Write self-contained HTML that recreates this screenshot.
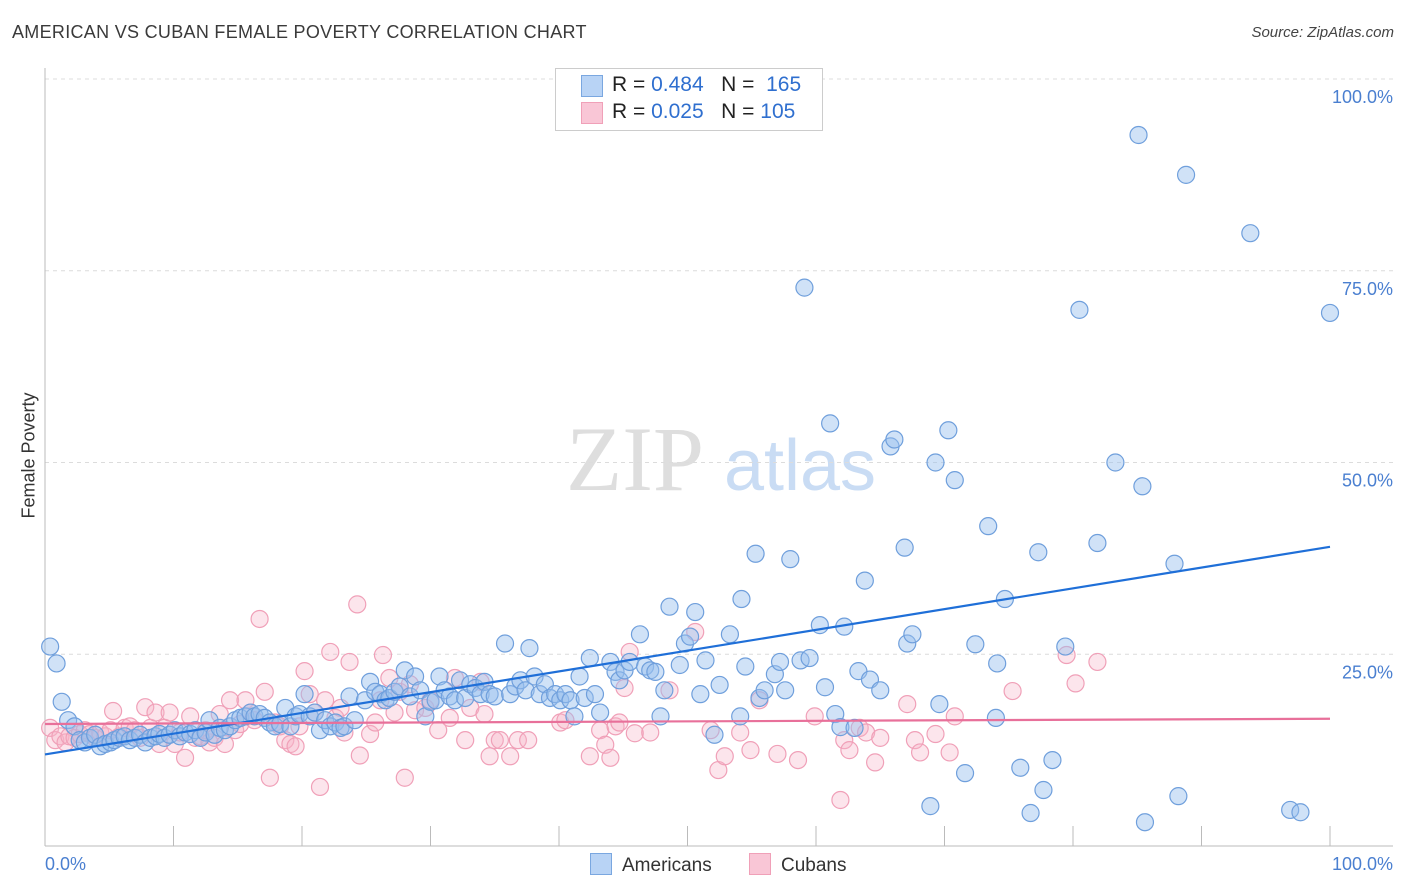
<!DOCTYPE html>
<html><head><meta charset="utf-8"><style>
body{margin:0;background:#fff;font-family:"Liberation Sans",sans-serif;}
#wrap{position:relative;width:1406px;height:892px;overflow:hidden;}
.t{position:absolute;white-space:nowrap;}
</style></head><body>
<div id="wrap">
<div class="t" style="left:12px;top:22px;font-size:18px;color:#3a3a3a;letter-spacing:0.3px;">AMERICAN VS CUBAN FEMALE POVERTY CORRELATION CHART</div>
<div class="t" style="right:12px;top:24px;font-size:15px;color:#444;font-style:italic;">Source: ZipAtlas.com</div>
<div class="t" style="left:-34px;top:445px;font-size:18px;color:#333;transform:rotate(-90deg);">Female Poverty</div>
<svg id="plot" width="1406" height="892" style="position:absolute;left:0;top:0"></svg>
<div class="t" style="left:555px;top:68px;width:266px;height:61px;border:1px solid #ccc;background:#fff;"></div>
<div class="t" style="left:581px;top:75px;width:20px;height:20px;background:#b8d3f5;border:1px solid #7aa7e0;"></div>
<div class="t" style="left:581px;top:102px;width:20px;height:20px;background:#f9c6d6;border:1px solid #f0a0b8;"></div>
<div class="t" style="left:612px;top:73px;font-size:21px;color:#222;">R = <span style="color:#2f6fcf">0.484</span>&nbsp;&nbsp;&nbsp;N = <span style="color:#2f6fcf">&nbsp;165</span></div>
<div class="t" style="left:612px;top:100px;font-size:21px;color:#222;">R = <span style="color:#2f6fcf">0.025</span>&nbsp;&nbsp;&nbsp;N = <span style="color:#2f6fcf">105</span></div>
<div class="t" style="left:590px;top:853px;font-size:19px;color:#333;"><span style="display:inline-block;width:20px;height:20px;background:#b8d3f5;border:1px solid #7aa7e0;vertical-align:-4px;margin-right:10px"></span>Americans</div>
<div class="t" style="left:749px;top:853px;font-size:19px;color:#333;"><span style="display:inline-block;width:20px;height:20px;background:#f9c6d6;border:1px solid #f0a0b8;vertical-align:-4px;margin-right:10px"></span>Cubans</div>
</div>
<script>
const yTicks=[100,75,50,25];
const yTickLabels=["100.0%","75.0%","50.0%","25.0%"];
const xTickLabels=["0.0%","100.0%"];
const amX=[0.4,0.9,1.3,1.8,2.3,2.7,3.1,3.5,3.9,4.3,4.7,5.1,5.4,5.8,6.2,6.6,7.0,7.4,7.8,8.2,8.6,8.9,9.3,9.7,10.1,10.5,10.9,11.3,11.7,12.1,12.5,12.8,13.2,13.6,14.0,14.4,14.8,15.2,15.6,16.0,16.3,16.7,17.1,17.5,17.9,18.3,18.7,19.1,19.5,19.8,20.2,20.6,21.0,21.4,21.8,22.2,22.6,23.0,23.3,23.7,24.1,24.9,25.3,25.7,26.1,26.5,26.8,27.2,27.6,28.0,28.4,28.8,29.2,29.6,30.0,30.4,30.7,31.1,31.5,31.9,32.3,32.7,33.1,33.5,33.9,34.2,34.6,35.0,35.8,36.2,36.6,37.0,37.4,37.7,38.1,38.5,38.9,39.3,39.7,40.1,40.5,40.9,41.2,41.6,42.0,42.4,42.8,43.2,44.0,44.4,44.7,45.1,45.5,46.3,46.7,47.1,47.5,47.9,48.2,48.6,49.4,49.8,50.2,50.6,51.0,51.4,52.1,52.5,53.3,54.1,54.5,54.2,55.3,55.6,56.0,56.8,57.2,57.6,58.0,58.8,59.1,59.5,60.3,60.7,61.1,61.5,61.9,62.2,63.0,63.3,63.8,64.2,65.0,65.8,66.1,66.9,67.1,67.5,68.9,69.3,69.6,70.3,70.8,71.6,72.4,73.4,74.1,74.7,74.0,75.9,76.7,77.3,77.7,78.4,79.4,80.5,81.9,83.3,85.1,85.4,85.6,87.9,88.2,88.8,93.8,96.9,97.7,100.0];
const amY=[26.0,23.8,18.8,16.4,15.6,13.8,13.5,14.1,14.5,13.0,13.3,13.5,13.8,14.1,14.3,13.8,14.1,14.5,13.5,14.1,14.3,14.6,14.1,14.5,15.1,14.3,14.8,14.6,15.1,14.1,14.8,16.4,14.5,15.4,15.1,15.6,16.4,16.7,16.9,17.4,16.9,17.2,16.7,16.1,15.6,15.9,18.0,15.6,16.9,17.2,19.8,16.9,17.4,15.1,16.4,15.6,16.1,15.4,15.6,19.5,16.4,19.0,21.4,20.1,19.8,19.0,19.3,20.1,20.8,22.9,19.5,22.1,20.3,16.9,18.8,19.0,22.1,20.3,19.5,19.0,21.6,19.3,21.1,20.6,19.8,21.4,19.8,19.5,26.4,19.8,20.8,21.6,20.3,25.8,22.1,19.8,21.1,19.3,19.8,19.0,19.8,19.0,16.9,22.1,19.3,24.5,19.8,17.4,24.0,22.7,21.6,22.9,24.0,27.6,23.4,22.9,22.7,16.9,20.3,31.2,23.6,26.4,27.3,30.5,19.8,24.2,14.5,21.0,27.6,16.9,23.4,32.2,38.1,19.3,20.3,22.4,24.0,20.3,37.4,24.2,72.8,24.5,28.8,20.7,55.1,17.2,15.5,28.6,15.4,22.8,34.6,21.7,20.3,52.1,53.0,38.9,26.4,27.6,5.2,50.0,18.5,54.2,47.7,9.5,26.3,41.7,23.8,32.2,16.7,10.2,4.3,38.3,7.3,11.2,26.0,69.9,39.5,50.0,92.7,46.9,3.1,36.8,6.5,87.5,79.9,4.7,4.4,69.5];
const cuX=[0.4,0.8,1.2,1.6,1.9,2.3,2.7,3.1,3.5,3.9,4.3,4.7,5.1,5.3,5.8,6.2,6.6,7.0,7.4,7.8,8.2,8.6,8.9,9.3,9.7,10.1,10.5,10.9,11.3,11.7,12.1,12.5,12.8,13.2,13.6,14.0,14.4,14.8,15.2,15.6,16.0,16.3,16.7,17.1,17.5,17.9,18.3,18.7,19.1,19.5,19.8,20.2,20.6,21.0,21.4,21.8,22.2,22.6,23.0,23.3,23.7,24.3,24.5,25.3,25.7,26.1,26.3,26.8,27.2,27.6,28.0,28.4,28.8,29.6,30.0,30.6,31.5,31.9,32.7,33.1,33.9,34.2,34.6,35.0,35.4,36.2,36.8,37.6,40.1,40.5,42.4,43.2,43.6,44.0,44.4,44.7,45.1,45.5,45.9,47.1,48.6,50.6,51.8,52.4,52.9,54.1,54.9,55.6,57.0,58.6,59.9,61.9,62.2,62.6,63.4,63.9,64.6,65.0,67.1,67.7,68.1,69.3,70.4,70.8,75.3,79.5,80.2,81.9];
const cuY=[15.4,13.8,14.3,13.5,14.3,14.1,14.6,15.1,14.6,14.1,14.8,14.3,15.1,17.6,14.3,15.4,15.6,15.1,14.1,18.1,15.4,17.4,13.3,15.4,17.4,13.3,14.8,11.5,16.9,14.1,14.3,15.1,13.5,14.1,17.2,13.3,19.0,15.1,15.9,19.0,17.4,16.4,29.6,20.1,8.9,16.1,15.6,13.8,13.3,13.0,15.6,22.8,19.8,17.4,7.7,19.0,25.3,16.7,18.0,14.8,24.0,31.5,11.8,14.6,16.1,19.0,24.9,21.9,17.4,20.1,8.9,21.1,17.7,18.0,19.0,15.1,16.7,21.9,13.8,18.0,21.4,17.2,11.7,13.8,13.8,11.7,13.8,13.8,16.1,16.4,11.7,15.1,13.2,11.5,15.6,16.1,20.6,25.3,14.7,14.8,20.3,27.9,15.1,9.9,11.7,14.8,12.5,19.0,12.0,11.2,16.9,6.0,13.8,12.5,15.4,14.8,10.9,14.1,18.5,13.8,12.2,14.6,12.2,16.9,20.2,24.9,21.2,24.0];

const NS='http://www.w3.org/2000/svg';
const svg=document.getElementById('plot');
const X0=45,X1=1330,Y0=846,Y100=79;
const sx=v=>X0+(X1-X0)*v/100;
const sy=v=>Y0-(Y0-Y100)*v/100;
function mk(tag,attrs){const e=document.createElementNS(NS,tag);for(const k in attrs)e.setAttribute(k,attrs[k]);svg.appendChild(e);return e;}
function txt(x,y,s,anchor,size,color){const e=mk('text',{x:x,y:y,'text-anchor':anchor,'font-size':size,fill:color,'font-family':'Liberation Sans, sans-serif'});e.textContent=s;return e;}

let w=txt(635,490,'ZIP','middle',92,'#dedede');w.setAttribute('font-family','Liberation Serif, serif');


w=txt(800,490,'atlas','middle',72,'#c9dcf4');



yTicks.forEach((v,i)=>{
  const g=mk('line',{x1:X0,x2:1393,y1:sy(v),y2:sy(v),stroke:'#dcdcdc','stroke-dasharray':'4,4'});
  
  
  const t=txt(1393,sy(v)+24,yTickLabels[i],'end',18,'#4a7fd0');
  
  
});
let ax=mk('line',{x1:X0,x2:X0,y1:68,y2:Y0,stroke:'#bbb'});


ax=mk('line',{x1:X0,x2:1393,y1:Y0,y2:Y0,stroke:'#bbb'});


for(let i=0;i<=10;i++){
  const tk=mk('line',{x1:sx(i*10),x2:sx(i*10),y1:826,y2:Y0,stroke:'#bbb'});
  
  
}
let xl=txt(45,870,xTickLabels[0],'start',18,'#4a7fd0');


xl=txt(1393,870,xTickLabels[1],'end',18,'#4a7fd0');



function dots(xs,ys,fill,stroke,name){
  xs.forEach((x,i)=>{
    const c=mk('circle',{cx:sx(x),cy:sy(ys[i]),r:8.5,fill:fill,stroke:stroke,'stroke-width':1.2});
    
    
  });
}
dots(cuX,cuY,'rgba(246,180,200,0.35)','#f0a0b8','cuban-point');
dots(amX,amY,'rgba(150,190,238,0.45)','#6f9fdc','american-point');

function fit(xs,ys){const n=xs.length;let mx=0,my=0;for(let i=0;i<n;i++){mx+=xs[i];my+=ys[i];}mx/=n;my/=n;let sxy=0,sxx=0;for(let i=0;i<n;i++){sxy+=(xs[i]-mx)*(ys[i]-my);sxx+=(xs[i]-mx)**2;}const b=sxy/sxx;return [my-b*mx,b];}
let [a,b]=fit(amX,amY);
let l=mk('line',{x1:sx(0),y1:sy(a),x2:sx(100),y2:sy(a+100*b),stroke:'#1f6fd8','stroke-width':2.2});


[a,b]=fit(cuX,cuY);
l=mk('line',{x1:sx(0),y1:sy(a),x2:sx(100),y2:sy(a+100*b),stroke:'#e8709a','stroke-width':2.2});


</script>
</body></html>
